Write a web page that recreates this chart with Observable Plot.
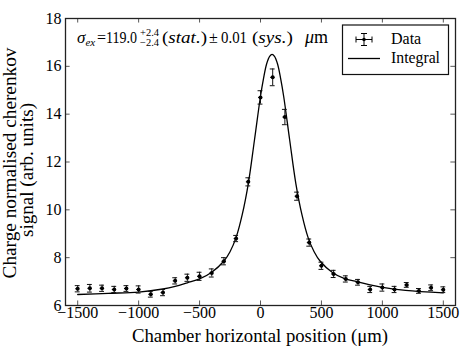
<!DOCTYPE html>
<html>
<head>
<meta charset="utf-8">
<script src="https://cdn.jsdelivr.net/npm/d3@7"></script>
<script src="https://cdn.jsdelivr.net/npm/@observablehq/plot@0.6"></script>
<style>
  html, body { margin: 0; padding: 0; background: #fff; }
  svg { display: block; }
</style>
</head>
<body>
<div id="chart"></div>
<script>
const positions = [-1500,-1400,-1300,-1200,-1100,-1000,-900,-800,-700,-600,-500,-400,-300,-200,-100,0,100,200,300,400,500,600,700,800,900,1000,1100,1200,1300,1400,1500];
const signal = [6.70,6.72,6.72,6.67,6.71,6.67,6.47,6.54,7.03,7.16,7.22,7.36,7.85,8.80,11.17,14.70,15.54,13.88,10.57,8.63,7.66,7.32,7.11,6.97,6.67,6.75,6.67,6.86,6.61,6.74,6.66];
const signalErr = [0.13,0.16,0.13,0.13,0.12,0.15,0.12,0.13,0.13,0.15,0.17,0.17,0.15,0.13,0.17,0.28,0.35,0.32,0.17,0.15,0.15,0.15,0.13,0.12,0.13,0.15,0.13,0.10,0.10,0.12,0.12];
const fitX = [-1500,-1250,-1000,-800,-700,-600,-500,-400,-300,-250,-200,-150,-100,-50,0,25,50,75,95,115,140,165,190,240,290,340,390,440,490,590,690,790,890,990,1190,1500];
const fitY = [6.46,6.51,6.56,6.69,6.80,6.95,7.11,7.39,7.86,8.25,8.85,9.80,11.10,12.90,14.75,15.50,16.10,16.42,16.50,16.42,16.10,15.50,14.75,12.90,11.10,9.80,8.85,8.25,7.85,7.38,7.12,7.00,6.87,6.77,6.63,6.53];
const xTicks = [-1500,-1000,-500,0,500,1000,1500];
const yTicks = [6,8,10,12,14,16,18];
const xLabel = "Chamber horizontal position (\u03bcm)";
const yLabel1 = "Charge normalised cherenkov";
const yLabel2 = "signal (arb. units)";
const legendLabels = ["Data", "Integral"];

const points = positions.map((x, i) => ({x, y: signal[i], e: signalErr[i]}));
const fit = fitX.map((x, i) => ({x, y: fitY[i]}));

const FONT = "Liberation Serif";
const fmt = d => (d < 0 ? "\u2212" + Math.abs(d) : String(d));
const capHalf = 20;
const tickLenX = 0.19;
const tickLenY = 38;

const chart = Plot.plot({
  width: 469,
  height: 352,
  marginLeft: 65,
  marginRight: 14,
  marginTop: 18,
  marginBottom: 47,
  style: {background: "#fff"},
  x: {domain: [-1600, 1600], ticks: xTicks, tickFormat: fmt, tickSize: 0, tickPadding: 1, label: null},
  y: {domain: [6, 18], ticks: yTicks, tickFormat: fmt, tickSize: 0, tickPadding: 4, label: null},
  marks: [
    Plot.ruleX(xTicks, {x: d => d, y1: 6, y2: 6 + tickLenX, stroke: "#444", strokeWidth: 0.9}),
    Plot.ruleX(xTicks, {x: d => d, y1: 18 - tickLenX, y2: 18, stroke: "#444", strokeWidth: 0.9}),
    Plot.ruleY(yTicks, {y: d => d, x1: -1600, x2: -1600 + tickLenY, stroke: "#444", strokeWidth: 0.9}),
    Plot.ruleY(yTicks, {y: d => d, x1: 1600 - tickLenY, x2: 1600, stroke: "#444", strokeWidth: 0.9}),
    Plot.line(fit, {x: "x", y: "y", curve: "catmull-rom", stroke: "#000", strokeWidth: 1.3}),
    Plot.ruleX(points, {x: "x", y1: d => d.y - d.e, y2: d => d.y + d.e, stroke: "#111", strokeWidth: 1}),
    Plot.ruleY(points, {y: d => d.y + d.e, x1: d => d.x - capHalf, x2: d => d.x + capHalf, stroke: "#111", strokeWidth: 1}),
    Plot.ruleY(points, {y: d => d.y - d.e, x1: d => d.x - capHalf, x2: d => d.x + capHalf, stroke: "#111", strokeWidth: 1}),
    Plot.ruleY(points, {y: "y", x1: d => d.x - 16, x2: d => d.x + 16, stroke: "#000", strokeWidth: 1}),
    Plot.dot(points, {x: "x", y: "y", r: 2, fill: "#000", stroke: "none"}),
    Plot.frame({stroke: "#222", strokeWidth: 1.3})
  ]
});

document.getElementById("chart").appendChild(chart);
const svg = d3.select(chart);
svg.attr("font-family", FONT).attr("font-size", 16);
svg.selectAll("g[aria-label$='tick label']").attr("font-variant", null).attr("font-family", FONT).attr("font-size", 16);
svg.selectAll("g[aria-label$='tick label'] text").attr("font-family", FONT).attr("font-size", 16);

function txt(parent, x, y, size, anchor) {
  return parent.append("text").attr("x", x).attr("y", y)
    .attr("font-family", FONT).attr("font-size", size)
    .attr("text-anchor", anchor || "start").attr("fill", "#000");
}

// axis labels
txt(svg, 260, 342, 18, "middle")
  .attr("textLength", 256).attr("lengthAdjust", "spacingAndGlyphs")
  .text(xLabel);
txt(svg, 0, 0, 18, "middle")
  .attr("transform", "translate(16,163) rotate(-90)")
  .attr("textLength", 231).attr("lengthAdjust", "spacingAndGlyphs")
  .text(yLabel1);
txt(svg, 0, 0, 18, "middle")
  .attr("transform", "translate(33,170) rotate(-90)")
  .attr("textLength", 134).attr("lengthAdjust", "spacingAndGlyphs")
  .text(yLabel2);

// annotation
const ann = svg.append("g");
const base = 43;
let t = txt(ann, 77, base, 17).attr("font-style", "italic");
t.append("tspan").text("\u03c3");
t.append("tspan").attr("font-size", 11).attr("dy", 3).text("ex");
txt(ann, 97, base, 16).text("=");
txt(ann, 106, base, 16).attr("textLength", 31).attr("lengthAdjust", "spacingAndGlyphs").text("119.0");
txt(ann, 140, base - 7, 10.5).text("+2.4");
txt(ann, 140, base + 3, 10.5).text("\u22122.4");
t = txt(ann, 162, base, 16).attr("textLength", 45).attr("lengthAdjust", "spacingAndGlyphs");
t.append("tspan").text("(");
t.append("tspan").attr("font-style", "italic").text("stat.");
t.append("tspan").text(")");
txt(ann, 209, base, 16).text("\u00b1");
txt(ann, 221, base, 16).attr("textLength", 26).attr("lengthAdjust", "spacingAndGlyphs").text("0.01");
t = txt(ann, 252, base, 16).attr("textLength", 41).attr("lengthAdjust", "spacingAndGlyphs");
t.append("tspan").text("(");
t.append("tspan").attr("font-style", "italic").text("sys.");
t.append("tspan").text(")");
t = txt(ann, 305, base, 18);
t.append("tspan").attr("font-style", "italic").text("\u03bc");
t.append("tspan").text("m");

// legend
const lg = svg.append("g");
lg.append("rect").attr("x", 342.5).attr("y", 25).attr("width", 106).attr("height", 49.5)
  .attr("fill", "#fff").attr("stroke", "#111").attr("stroke-width", 1.2);
const sx = 364, sy = 39.5;
const seg = (x1, y1, x2, y2, w) => lg.append("line").attr("x1", x1).attr("y1", y1).attr("x2", x2).attr("y2", y2)
  .attr("stroke", "#000").attr("stroke-width", w || 1);
seg(sx, sy - 6, sx, sy + 6);
seg(sx - 8, sy, sx + 8, sy);
seg(sx - 3, sy - 6, sx + 3, sy - 6);
seg(sx - 3, sy + 6, sx + 3, sy + 6);
seg(sx - 8, sy - 3, sx - 8, sy + 3);
seg(sx + 8, sy - 3, sx + 8, sy + 3);
lg.append("circle").attr("cx", sx).attr("cy", sy).attr("r", 1.8).attr("fill", "#000");
seg(348, 58.5, 380, 58.5, 1.3);
txt(lg, 391, 44, 16).text(legendLabels[0]);
txt(lg, 391, 63, 16).attr("textLength", 49).attr("lengthAdjust", "spacingAndGlyphs").text(legendLabels[1]);
</script>
</body>
</html>
